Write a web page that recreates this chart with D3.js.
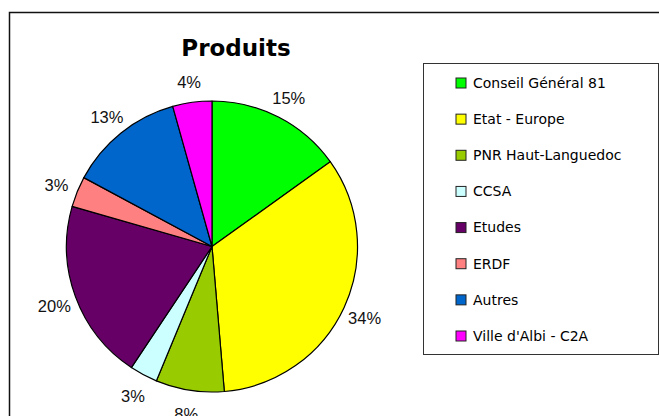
<!DOCTYPE html>
<html>
<head>
<meta charset="utf-8">
<script src="https://cdn.jsdelivr.net/npm/d3@7"></script>
<style>
  body { margin: 0; background: #fff; }
  svg { display: block; }
</style>
</head>
<body>
<svg id="chart"></svg>
<script>
// data (shares in %)
const categories = ["Conseil Général 81", "Etat - Europe", "PNR Haut-Languedoc", "CCSA",
                    "Etudes", "ERDF", "Autres", "Ville d'Albi - C2A"];
const values = [15.1, 33.55, 7.6, 3.1, 20.1, 3.4, 12.8, 4.35];
const colors = ["#00ff00", "#ffff00", "#99cc00", "#ccffff",
                "#660066", "#ff8080", "#0066cc", "#ff00ff"];
const title = "Produits";

const width = 659, height = 416;
const cx = 212, cy = 246.5, radius = 145.5, labelRadius = 168;
const comic = "'Comic Sans MS', 'DejaVu Sans', sans-serif";

const svg = d3.select("#chart")
  .attr("width", width)
  .attr("height", height);

// outer frame
svg.append("rect")
  .attr("x", 9.5).attr("y", 12.5)
  .attr("width", 700).attr("height", 450)
  .attr("fill", "#fff")
  .attr("stroke", "#111")
  .attr("stroke-width", 1.5);

svg.append("text")
  .attr("x", 236).attr("y", 56)
  .attr("text-anchor", "middle")
  .attr("font-family", comic)
  .attr("font-weight", "bold")
  .attr("font-size", 23)
  .attr("fill", "#000")
  .text(title);

const total = d3.sum(values);
const pie = d3.pie().sort(null).value(d => d.value);
const arcs = pie(categories.map((c, i) => ({ name: c, value: values[i], color: colors[i] })));

const arc = d3.arc().innerRadius(0).outerRadius(radius);
const labelArc = d3.arc().innerRadius(labelRadius).outerRadius(labelRadius);

const g = svg.append("g").attr("transform", `translate(${cx},${cy})`);

g.selectAll("path")
  .data(arcs)
  .join("path")
    .attr("d", arc)
    .attr("fill", d => d.data.color)
    .attr("stroke", "#000")
    .attr("stroke-width", 1.2)
    .attr("stroke-linejoin", "round");

g.selectAll("text.pct")
  .data(arcs)
  .join("text")
    .attr("class", "pct")
    .attr("transform", d => `translate(${labelArc.centroid(d)})`)
    .attr("text-anchor", "middle")
    .attr("dy", "0.45em")
    .attr("font-family", "'Liberation Sans', Arial, sans-serif")
    .attr("font-size", 16.5)
    .attr("fill", "#111")
    .text(d => d3.format(".0%")(d.data.value / total));

// legend
const legend = svg.append("g");
legend.append("rect")
  .attr("x", 423.5).attr("y", 63.5)
  .attr("width", 235).attr("height", 291)
  .attr("fill", "#fff")
  .attr("stroke", "#333")
  .attr("stroke-width", 1);

const ly = d3.scalePoint()
  .domain(categories)
  .range([83, 336]);

const items = legend.selectAll("g.item")
  .data(categories)
  .join("g")
    .attr("class", "item")
    .attr("transform", d => `translate(0,${ly(d)})`);

items.append("rect")
  .attr("x", 456).attr("y", -5)
  .attr("width", 10).attr("height", 10)
  .attr("fill", (d, i) => colors[i])
  .attr("stroke", "#222")
  .attr("stroke-width", 1);

items.append("text")
  .attr("x", 473)
  .attr("dy", "0.35em")
  .attr("font-family", comic)
  .attr("font-size", 14)
  .attr("fill", "#000")
  .text(d => d);
</script>
</body>
</html>
